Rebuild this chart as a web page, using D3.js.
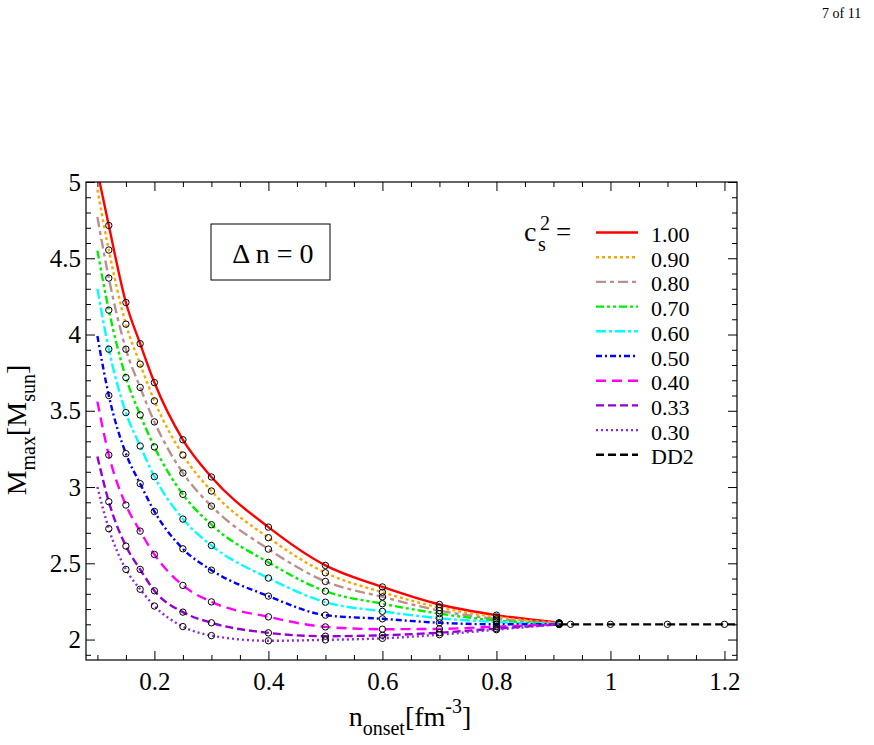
<!DOCTYPE html>
<html>
<head>
<meta charset="utf-8">
<script src="https://cdn.jsdelivr.net/npm/d3@7"></script>
<style>
  body { margin: 0; background: #fff; }
</style>
</head>
<body>
<svg></svg>
<script>
// Onset densities (fm^-3) where the curves are sampled
const nOnset = [0.1, 0.12, 0.15, 0.175, 0.2, 0.25, 0.3, 0.4, 0.5, 0.6, 0.7, 0.8, 0.91];

// Maximum mass (M_sun) for each speed of sound squared
const cs2Labels = ["1.00", "0.90", "0.80", "0.70", "0.60", "0.50", "0.40", "0.33", "0.30"];
const mCs100 = [5.07, 4.715, 4.21, 3.94, 3.685, 3.31, 3.066, 2.737, 2.486, 2.345, 2.23, 2.16, 2.11];
const mCs090 = [4.95, 4.554, 4.068, 3.806, 3.565, 3.21, 2.974, 2.668, 2.438, 2.31, 2.21, 2.148, 2.108];
const mCs080 = [4.77, 4.37, 3.904, 3.653, 3.427, 3.092, 2.875, 2.593, 2.381, 2.28, 2.19, 2.135, 2.106];
const mCs070 = [4.55, 4.16, 3.718, 3.473, 3.263, 2.952, 2.753, 2.506, 2.317, 2.235, 2.17, 2.125, 2.104];
const mCs060 = [4.30, 3.904, 3.488, 3.269, 3.068, 2.79, 2.617, 2.403, 2.245, 2.185, 2.14, 2.115, 2.103];
const mCs050 = [3.99, 3.60, 3.219, 3.022, 2.84, 2.595, 2.455, 2.285, 2.16, 2.136, 2.11, 2.10, 2.10];
const mCs040 = [3.56, 3.21, 2.882, 2.711, 2.558, 2.355, 2.247, 2.149, 2.083, 2.068, 2.07, 2.085, 2.10];
const mCs033 = [3.20, 2.904, 2.613, 2.46, 2.32, 2.18, 2.11, 2.044, 2.022, 2.028, 2.045, 2.072, 2.10];
const mCs030 = [3.00, 2.727, 2.46, 2.33, 2.22, 2.085, 2.026, 1.992, 1.998, 2.008, 2.032, 2.065, 2.10];
const seriesValues = [mCs100, mCs090, mCs080, mCs070, mCs060, mCs050, mCs040, mCs033, mCs030];

// DD2 hadronic branch
const dd2N = [0.91, 0.93, 1.0, 1.1, 1.2, 1.222];
const dd2M = [2.10, 2.10, 2.10, 2.10, 2.10, 2.10];

// Tick values
const xMajor = [0.2, 0.4, 0.6, 0.8, 1.0, 1.2];
const yMajor = [2, 2.5, 3, 3.5, 4, 4.5, 5];

// Line styles, one per series
const colors = ["#ff0000", "#ffa500", "#bc8f8f", "#00ee00", "#00ffff", "#0000ff", "#ff00ff", "#9400d3", "#8a2be2"];
const dashes = ["none", "3,3", "10,4,4,4", "8,3,3,3,3,3", "10,3,3,3", "6,3,2,3", "10,6", "8,4", "2,3"];

const FONT = "Liberation Serif";

const svgWidth = 874, svgHeight = 745;
const margin = { top: 182, left: 86 };
const w = 651, h = 478;

const root = d3.select("svg")
    .attr("width", svgWidth)
    .attr("height", svgHeight);

// page number in the corner
root.append("text")
    .attr("x", 822).attr("y", 18)
    .attr("font-family", FONT)
    .attr("font-size", "14px")
    .text("7 of 11");

const svg = root.append("g")
    .attr("transform", `translate(${margin.left}, ${margin.top})`);

const xScale = d3.scaleLinear().domain([0.08, 1.222]).range([0, w]);
const yScale = d3.scaleLinear().domain([1.866, 5.0]).range([h, 0]);

svg.append("clipPath").attr("id", "plot-clip")
    .append("rect").attr("width", w).attr("height", h);

// Axes: ticks point inward on all four sides
const xMinor = d3.range(2, 25).map(i => i * 0.05).filter(v => !xMajor.some(m => Math.abs(m - v) < 1e-6));
const yMinor = d3.range(19, 51).map(i => i / 10).filter(v => !yMajor.some(m => Math.abs(m - v) < 1e-6));

function addAxis(axis, transform) {
    const g = svg.append("g").attr("transform", transform).call(axis);
    g.attr("font-family", FONT);
    g.select(".domain").remove();
    g.selectAll("line").attr("stroke", "#000").attr("stroke-width", 1);
    g.selectAll("text")
        .attr("font-family", FONT)
        .attr("font-size", "25px")
        .attr("fill", "#000");
    return g;
}

addAxis(d3.axisBottom(xScale).tickValues(xMajor).tickSize(-9).tickPadding(12).tickFormat(d3.format("~g")), `translate(0, ${h})`);
addAxis(d3.axisBottom(xScale).tickValues(xMinor).tickSize(-5).tickFormat(""), `translate(0, ${h})`);
addAxis(d3.axisTop(xScale).tickValues(xMajor).tickSize(-9).tickFormat(""), "translate(0, 0)");
addAxis(d3.axisTop(xScale).tickValues(xMinor).tickSize(-5).tickFormat(""), "translate(0, 0)");
addAxis(d3.axisLeft(yScale).tickValues(yMajor).tickSize(-9).tickPadding(5).tickFormat(d3.format("~g")), "translate(0, 0)");
addAxis(d3.axisLeft(yScale).tickValues(yMinor).tickSize(-5).tickFormat(""), "translate(0, 0)");
addAxis(d3.axisRight(yScale).tickValues(yMajor).tickSize(-9).tickFormat(""), `translate(${w}, 0)`);
addAxis(d3.axisRight(yScale).tickValues(yMinor).tickSize(-5).tickFormat(""), `translate(${w}, 0)`);

// Curves
const line = d3.line()
    .x(d => xScale(d[0]))
    .y(d => yScale(d[1]))
    .curve(d3.curveMonotoneX);

const plot = svg.append("g").attr("clip-path", "url(#plot-clip)");

seriesValues.forEach((vals, i) => {
    const pts = nOnset.map((n, j) => [n, vals[j]]);
    plot.append("path")
        .datum(pts)
        .attr("fill", "none")
        .attr("stroke", colors[i])
        .attr("stroke-width", 2.4)
        .attr("stroke-dasharray", dashes[i])
        .attr("d", line);
});

plot.append("path")
    .datum(dd2N.map((n, j) => [n, dd2M[j]]))
    .attr("fill", "none")
    .attr("stroke", "#000")
    .attr("stroke-width", 2.2)
    .attr("stroke-dasharray", "8,4")
    .attr("d", line);

// Markers at the computed points
function drawMarkers(pts) {
    plot.selectAll(null)
        .data(pts)
        .enter()
        .append("circle")
        .attr("cx", d => xScale(d[0]))
        .attr("cy", d => yScale(d[1]))
        .attr("r", 3.2)
        .attr("fill", "none")
        .attr("stroke", "#000")
        .attr("stroke-width", 1);
}
seriesValues.forEach(vals => {
    drawMarkers(nOnset.slice(1).map((n, j) => [n, vals[j + 1]]));
});
drawMarkers(dd2N.slice(1, 5).map((n, j) => [n, dd2M[j + 1]]));

// Frame
svg.append("rect")
    .attr("width", w).attr("height", h)
    .attr("fill", "none").attr("stroke", "#000").attr("stroke-width", 1.2);

// Delta n box
svg.append("rect")
    .attr("x", 125).attr("y", 42).attr("width", 119).attr("height", 56)
    .attr("fill", "#fff").attr("stroke", "#000").attr("stroke-width", 1);
svg.append("text")
    .attr("x", 187).attr("y", 81)
    .attr("text-anchor", "middle")
    .attr("font-family", FONT)
    .attr("font-size", "28px")
    .text("\u0394 n = 0");

// Legend
const legend = svg.append("g").attr("font-family", FONT);
legend.append("text").attr("x", 438).attr("y", 59).attr("font-family", FONT).attr("font-size", "28px").text("c");
legend.append("text").attr("x", 452).attr("y", 69).attr("font-family", FONT).attr("font-size", "20px").text("s");
legend.append("text").attr("x", 454).attr("y", 48).attr("font-family", FONT).attr("font-size", "20px").text("2");
legend.append("text").attr("x", 470).attr("y", 59).attr("font-family", FONT).attr("font-size", "27px").text("=");

const legendLabels = cs2Labels.concat(["DD2"]);
const legendColors = colors.concat(["#000"]);
const legendDashes = dashes.concat(["8,4"]);
legendLabels.forEach((lab, i) => {
    const yy = 50.5 + i * 24.7;
    legend.append("line")
        .attr("x1", 510).attr("x2", 552)
        .attr("y1", yy).attr("y2", yy)
        .attr("stroke", legendColors[i])
        .attr("stroke-width", 2.4)
        .attr("stroke-dasharray", legendDashes[i]);
    legend.append("text")
        .attr("x", 565).attr("y", yy + 9.5)
        .attr("font-family", FONT)
        .attr("font-size", "22px")
        .text(lab);
});

// Axis titles
const xTitle = root.append("text")
    .attr("x", 410).attr("y", 726)
    .attr("text-anchor", "middle")
    .attr("font-family", FONT)
    .attr("font-size", "28px");
xTitle.append("tspan").text("n");
xTitle.append("tspan").attr("font-size", "20px").attr("dy", 9).text("onset");
xTitle.append("tspan").attr("dy", -9).text("[fm");
xTitle.append("tspan").attr("font-size", "20px").attr("dy", -13).text("-3");
xTitle.append("tspan").attr("dy", 13).text("]");

const yTitle = root.append("text")
    .attr("transform", "translate(26, 430) rotate(-90)")
    .attr("text-anchor", "middle")
    .attr("font-family", FONT)
    .attr("font-size", "28px");
yTitle.append("tspan").text("M");
yTitle.append("tspan").attr("font-size", "20px").attr("dy", 9).text("max");
yTitle.append("tspan").attr("dy", -9).text("[M");
yTitle.append("tspan").attr("font-size", "20px").attr("dy", 9).text("sun");
yTitle.append("tspan").attr("dy", -9).text("]");
</script>
</body>
</html>
